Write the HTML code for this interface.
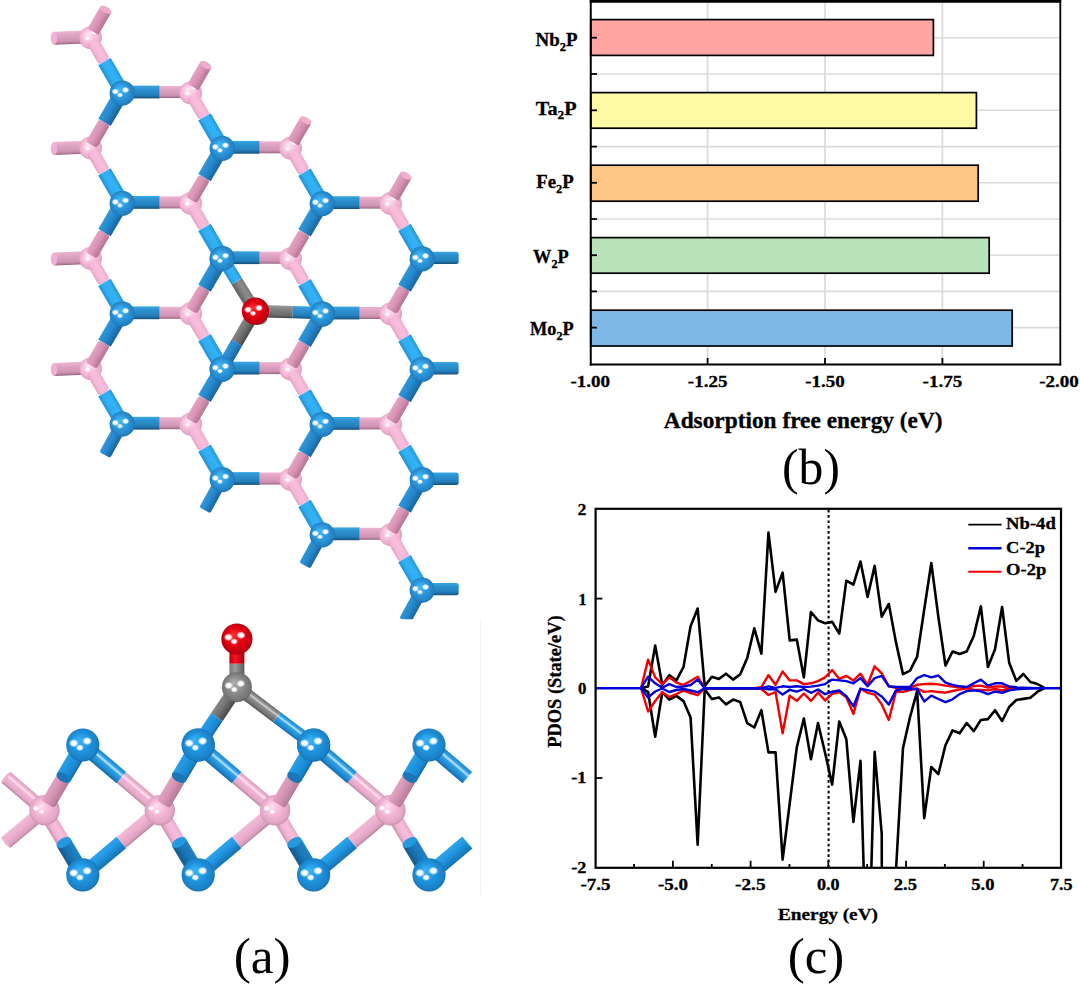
<!DOCTYPE html>
<html><head><meta charset="utf-8"><title>Figure</title>
<style>html,body{margin:0;padding:0;background:#fff}svg{display:block}
text{font-family:"Liberation Serif","Times New Roman",serif;fill:#000}
.b{font-weight:bold;stroke:#000;stroke-width:0.3px}</style></head><body>
<svg width="1080" height="985" viewBox="0 0 1080 985">
<defs>
<linearGradient id="bH" x1="0" y1="0" x2="0" y2="1"><stop offset="0" stop-color="#3aa6e4"/><stop offset="0.3" stop-color="#2c90ce"/><stop offset="0.7" stop-color="#2482be"/><stop offset="0.9" stop-color="#1b6496"/><stop offset="1" stop-color="#134a72"/></linearGradient>
<linearGradient id="bL" x1="0" y1="0" x2="0" y2="1"><stop offset="0" stop-color="#2596da"/><stop offset="0.3" stop-color="#33b2f6"/><stop offset="0.7" stop-color="#30aef2"/><stop offset="1" stop-color="#2190d2"/></linearGradient>
<linearGradient id="bD" x1="0" y1="0" x2="0" y2="1"><stop offset="0" stop-color="#2f98da"/><stop offset="0.45" stop-color="#2688cc"/><stop offset="1" stop-color="#19659c"/></linearGradient>
<linearGradient id="pH" x1="0" y1="0" x2="0" y2="1"><stop offset="0" stop-color="#eeb4d2"/><stop offset="0.35" stop-color="#dea2c2"/><stop offset="0.75" stop-color="#d094b4"/><stop offset="0.92" stop-color="#b47a9a"/><stop offset="1" stop-color="#8a5c74"/></linearGradient>
<linearGradient id="pL" x1="0" y1="0" x2="0" y2="1"><stop offset="0" stop-color="#eeaed0"/><stop offset="0.35" stop-color="#f9bedd"/><stop offset="0.75" stop-color="#f5b8d8"/><stop offset="1" stop-color="#e4a2c6"/></linearGradient>
<linearGradient id="pD" x1="0" y1="0" x2="0" y2="1"><stop offset="0" stop-color="#e4a4c4"/><stop offset="0.5" stop-color="#d892b4"/><stop offset="1" stop-color="#b47494"/></linearGradient>
<linearGradient id="gH" x1="0" y1="0" x2="0" y2="1"><stop offset="0" stop-color="#989898"/><stop offset="0.35" stop-color="#808080"/><stop offset="0.8" stop-color="#686868"/><stop offset="1" stop-color="#404040"/></linearGradient>
<linearGradient id="gL" x1="0" y1="0" x2="0" y2="1"><stop offset="0" stop-color="#7c7c7c"/><stop offset="0.4" stop-color="#8c8c8c"/><stop offset="1" stop-color="#626262"/></linearGradient>
<linearGradient id="gD" x1="0" y1="0" x2="0" y2="1"><stop offset="0" stop-color="#868686"/><stop offset="0.5" stop-color="#707070"/><stop offset="1" stop-color="#484848"/></linearGradient>
<linearGradient id="rV" x1="0" y1="0" x2="0" y2="1"><stop offset="0" stop-color="#c00010"/><stop offset="0.4" stop-color="#f01020"/><stop offset="1" stop-color="#b00010"/></linearGradient>
<radialGradient id="hl" cx="0.5" cy="0.5" r="0.5"><stop offset="0" stop-color="#fff" stop-opacity="1"/><stop offset="0.5" stop-color="#fff" stop-opacity="0.95"/><stop offset="1" stop-color="#fff" stop-opacity="0"/></radialGradient>
<radialGradient id="sB" cx="0.5" cy="0.5" r="0.55" fx="0.38" fy="0.34"><stop offset="0" stop-color="#3cbaf8"/><stop offset="0.55" stop-color="#2c96da"/><stop offset="0.85" stop-color="#2280c2"/><stop offset="1" stop-color="#1a6aa6"/></radialGradient>
<radialGradient id="sP" cx="0.5" cy="0.5" r="0.55" fx="0.38" fy="0.34"><stop offset="0" stop-color="#ffeaf5"/><stop offset="0.35" stop-color="#fccbe4"/><stop offset="0.75" stop-color="#f0b2d2"/><stop offset="1" stop-color="#d096b6"/></radialGradient>
<radialGradient id="sR" cx="0.5" cy="0.5" r="0.55" fx="0.38" fy="0.34"><stop offset="0" stop-color="#ff3030"/><stop offset="0.5" stop-color="#e60012"/><stop offset="0.85" stop-color="#c00010"/><stop offset="1" stop-color="#900008"/></radialGradient>
<radialGradient id="sG" cx="0.5" cy="0.5" r="0.55" fx="0.38" fy="0.34"><stop offset="0" stop-color="#b0b0b0"/><stop offset="0.5" stop-color="#8c8c8c"/><stop offset="0.85" stop-color="#747474"/><stop offset="1" stop-color="#555555"/></radialGradient>
<clipPath id="tc"><rect x="0" y="0" width="540" height="619.3"/></clipPath>
<linearGradient id="sbL" x1="0" y1="0" x2="0" y2="1"><stop offset="0" stop-color="#1a84cc"/><stop offset="0.22" stop-color="#2ea2e8"/><stop offset="0.36" stop-color="#bfe4fa"/><stop offset="0.5" stop-color="#2e9fe6"/><stop offset="0.8" stop-color="#1d88cf"/><stop offset="1" stop-color="#1468a6"/></linearGradient>
<linearGradient id="spL" x1="0" y1="0" x2="0" y2="1"><stop offset="0" stop-color="#d89cbc"/><stop offset="0.2" stop-color="#f2b4d4"/><stop offset="0.34" stop-color="#ffe4f2"/><stop offset="0.48" stop-color="#f2b4d4"/><stop offset="0.8" stop-color="#e6a8c8"/><stop offset="1" stop-color="#b4869e"/></linearGradient>
<linearGradient id="sbA" x1="0" y1="0" x2="0" y2="1"><stop offset="0" stop-color="#2aa0e8"/><stop offset="0.4" stop-color="#1f94de"/><stop offset="0.8" stop-color="#1a84cc"/><stop offset="1" stop-color="#14689f"/></linearGradient>
<linearGradient id="spA" x1="0" y1="0" x2="0" y2="1"><stop offset="0" stop-color="#e2a2c2"/><stop offset="0.4" stop-color="#d896b6"/><stop offset="1" stop-color="#b47a98"/></linearGradient>
<linearGradient id="sbC" x1="0" y1="0" x2="0" y2="1"><stop offset="0" stop-color="#1f84c8"/><stop offset="0.5" stop-color="#1a76b6"/><stop offset="1" stop-color="#125a8e"/></linearGradient>
<linearGradient id="spC" x1="0" y1="0" x2="0" y2="1"><stop offset="0" stop-color="#e8aacc"/><stop offset="0.35" stop-color="#f8bedc"/><stop offset="0.7" stop-color="#f2b4d4"/><stop offset="1" stop-color="#cc94b2"/></linearGradient>
<linearGradient id="sbD" x1="0" y1="0" x2="0" y2="1"><stop offset="0" stop-color="#2ea4ec"/><stop offset="0.4" stop-color="#2298e2"/><stop offset="1" stop-color="#1672b2"/></linearGradient>
<linearGradient id="spD" x1="0" y1="0" x2="0" y2="1"><stop offset="0" stop-color="#f4bad8"/><stop offset="0.4" stop-color="#eeb0d0"/><stop offset="0.8" stop-color="#dca0c0"/><stop offset="1" stop-color="#b4869e"/></linearGradient>
<linearGradient id="gL2" x1="0" y1="0" x2="0" y2="1"><stop offset="0" stop-color="#6c6c6c"/><stop offset="0.22" stop-color="#8e8e8e"/><stop offset="0.36" stop-color="#d0d0d0"/><stop offset="0.5" stop-color="#8c8c8c"/><stop offset="0.8" stop-color="#767676"/><stop offset="1" stop-color="#505050"/></linearGradient>
<radialGradient id="sP2" cx="0.5" cy="0.5" r="0.55" fx="0.38" fy="0.34"><stop offset="0" stop-color="#ffe0f0"/><stop offset="0.4" stop-color="#f6bcda"/><stop offset="0.8" stop-color="#e4a6c6"/><stop offset="1" stop-color="#b88aa2"/></radialGradient>
<radialGradient id="sB2" cx="0.5" cy="0.5" r="0.55" fx="0.38" fy="0.34"><stop offset="0" stop-color="#38b4f6"/><stop offset="0.5" stop-color="#1f94de"/><stop offset="0.85" stop-color="#1a80c6"/><stop offset="1" stop-color="#125e98"/></radialGradient>
<linearGradient id="rV2" x1="0" y1="0" x2="1" y2="0"><stop offset="0" stop-color="#c4000e"/><stop offset="0.4" stop-color="#f41422"/><stop offset="1" stop-color="#a8000c"/></linearGradient>
<linearGradient id="gV2" x1="0" y1="0" x2="1" y2="0"><stop offset="0" stop-color="#7c7c7c"/><stop offset="0.4" stop-color="#9a9a9a"/><stop offset="1" stop-color="#5a5a5a"/></linearGradient>
<clipPath id="pc"><rect x="595.6" y="508.8" width="465.4" height="359"/></clipPath>
</defs>
<rect width="1080" height="985" fill="#fff"/>
<g id="topview" clip-path="url(#tc)">
<rect x="0" y="-6" width="30.81" height="12" fill="url(#pH)" transform="translate(159.19 92) rotate(0)"/>
<rect x="0" y="-6" width="30.81" height="12" fill="url(#pH)" transform="translate(159.19 202.4) rotate(0)"/>
<rect x="0" y="-6" width="30.81" height="12" fill="url(#pH)" transform="translate(159.19 312.8) rotate(0)"/>
<rect x="0" y="-6" width="30.81" height="12" fill="url(#pH)" transform="translate(159.19 423.2) rotate(0)"/>
<rect x="0" y="-6" width="30.81" height="12" fill="url(#pH)" transform="translate(259.19 147.3) rotate(0)"/>
<rect x="0" y="-6" width="30.81" height="12" fill="url(#pH)" transform="translate(259.19 257.7) rotate(0)"/>
<rect x="0" y="-6" width="30.81" height="12" fill="url(#pH)" transform="translate(259.19 368.1) rotate(0)"/>
<rect x="0" y="-6" width="30.81" height="12" fill="url(#pH)" transform="translate(259.19 478.5) rotate(0)"/>
<rect x="0" y="-6" width="30.81" height="12" fill="url(#pH)" transform="translate(359.19 202.6) rotate(0)"/>
<rect x="0" y="-6" width="30.81" height="12" fill="url(#pH)" transform="translate(359.19 313) rotate(0)"/>
<rect x="0" y="-6" width="30.81" height="12" fill="url(#pH)" transform="translate(359.19 423.4) rotate(0)"/>
<rect x="0" y="-6" width="30.81" height="12" fill="url(#pH)" transform="translate(359.19 533.8) rotate(0)"/>
<rect x="0" y="-6.5" width="36.03" height="13" fill="url(#pH)" transform="translate(54 38.2) rotate(-2.39)"/>
<ellipse cx="54" cy="38.2" rx="3.2" ry="6.5" fill="#f0b2d2" transform="rotate(0 54 38.2)"/>
<rect x="0" y="-6.5" width="36.03" height="13" fill="url(#pH)" transform="translate(54 148.6) rotate(-2.39)"/>
<ellipse cx="54" cy="148.6" rx="3.2" ry="6.5" fill="#f0b2d2" transform="rotate(0 54 148.6)"/>
<rect x="0" y="-6.5" width="36.03" height="13" fill="url(#pH)" transform="translate(54 259) rotate(-2.39)"/>
<ellipse cx="54" cy="259" rx="3.2" ry="6.5" fill="#f0b2d2" transform="rotate(0 54 259)"/>
<rect x="0" y="-6.5" width="36.03" height="13" fill="url(#pH)" transform="translate(54 369.4) rotate(-2.39)"/>
<ellipse cx="54" cy="369.4" rx="3.2" ry="6.5" fill="#f0b2d2" transform="rotate(0 54 369.4)"/>
<circle cx="90.6" cy="37.6" r="11.4" fill="url(#sP)"/>
<ellipse cx="87.5" cy="38.2" rx="2.2" ry="1.8" fill="#fff" opacity="0.9"/>
<ellipse cx="93.5" cy="32.7" rx="2.6" ry="1.4" fill="#fff" opacity="0.8" transform="rotate(20 93.5 32.7)"/>
<circle cx="90.6" cy="148" r="11.4" fill="url(#sP)"/>
<ellipse cx="87.5" cy="148.6" rx="2.2" ry="1.8" fill="#fff" opacity="0.9"/>
<ellipse cx="93.5" cy="143.1" rx="2.6" ry="1.4" fill="#fff" opacity="0.8" transform="rotate(20 93.5 143.1)"/>
<circle cx="90.6" cy="258.4" r="11.4" fill="url(#sP)"/>
<ellipse cx="87.5" cy="259" rx="2.2" ry="1.8" fill="#fff" opacity="0.9"/>
<ellipse cx="93.5" cy="253.5" rx="2.6" ry="1.4" fill="#fff" opacity="0.8" transform="rotate(20 93.5 253.5)"/>
<circle cx="90.6" cy="368.8" r="11.4" fill="url(#sP)"/>
<ellipse cx="87.5" cy="369.4" rx="2.2" ry="1.8" fill="#fff" opacity="0.9"/>
<ellipse cx="93.5" cy="363.9" rx="2.6" ry="1.4" fill="#fff" opacity="0.8" transform="rotate(20 93.5 363.9)"/>
<circle cx="190.6" cy="92.9" r="11.4" fill="url(#sP)"/>
<ellipse cx="187.5" cy="93.5" rx="2.2" ry="1.8" fill="#fff" opacity="0.9"/>
<ellipse cx="193.5" cy="88" rx="2.6" ry="1.4" fill="#fff" opacity="0.8" transform="rotate(20 193.5 88)"/>
<circle cx="190.6" cy="203.3" r="11.4" fill="url(#sP)"/>
<ellipse cx="187.5" cy="203.9" rx="2.2" ry="1.8" fill="#fff" opacity="0.9"/>
<ellipse cx="193.5" cy="198.4" rx="2.6" ry="1.4" fill="#fff" opacity="0.8" transform="rotate(20 193.5 198.4)"/>
<circle cx="190.6" cy="313.7" r="11.4" fill="url(#sP)"/>
<ellipse cx="187.5" cy="314.3" rx="2.2" ry="1.8" fill="#fff" opacity="0.9"/>
<ellipse cx="193.5" cy="308.8" rx="2.6" ry="1.4" fill="#fff" opacity="0.8" transform="rotate(20 193.5 308.8)"/>
<circle cx="190.6" cy="424.1" r="11.4" fill="url(#sP)"/>
<ellipse cx="187.5" cy="424.7" rx="2.2" ry="1.8" fill="#fff" opacity="0.9"/>
<ellipse cx="193.5" cy="419.2" rx="2.6" ry="1.4" fill="#fff" opacity="0.8" transform="rotate(20 193.5 419.2)"/>
<circle cx="290.6" cy="148.2" r="11.4" fill="url(#sP)"/>
<ellipse cx="287.5" cy="148.8" rx="2.2" ry="1.8" fill="#fff" opacity="0.9"/>
<ellipse cx="293.5" cy="143.3" rx="2.6" ry="1.4" fill="#fff" opacity="0.8" transform="rotate(20 293.5 143.3)"/>
<circle cx="290.6" cy="258.6" r="11.4" fill="url(#sP)"/>
<ellipse cx="287.5" cy="259.2" rx="2.2" ry="1.8" fill="#fff" opacity="0.9"/>
<ellipse cx="293.5" cy="253.7" rx="2.6" ry="1.4" fill="#fff" opacity="0.8" transform="rotate(20 293.5 253.7)"/>
<circle cx="290.6" cy="369" r="11.4" fill="url(#sP)"/>
<ellipse cx="287.5" cy="369.6" rx="2.2" ry="1.8" fill="#fff" opacity="0.9"/>
<ellipse cx="293.5" cy="364.1" rx="2.6" ry="1.4" fill="#fff" opacity="0.8" transform="rotate(20 293.5 364.1)"/>
<circle cx="290.6" cy="479.4" r="11.4" fill="url(#sP)"/>
<ellipse cx="287.5" cy="480" rx="2.2" ry="1.8" fill="#fff" opacity="0.9"/>
<ellipse cx="293.5" cy="474.5" rx="2.6" ry="1.4" fill="#fff" opacity="0.8" transform="rotate(20 293.5 474.5)"/>
<circle cx="390.6" cy="203.5" r="11.4" fill="url(#sP)"/>
<ellipse cx="387.5" cy="204.1" rx="2.2" ry="1.8" fill="#fff" opacity="0.9"/>
<ellipse cx="393.5" cy="198.6" rx="2.6" ry="1.4" fill="#fff" opacity="0.8" transform="rotate(20 393.5 198.6)"/>
<circle cx="390.6" cy="313.9" r="11.4" fill="url(#sP)"/>
<ellipse cx="387.5" cy="314.5" rx="2.2" ry="1.8" fill="#fff" opacity="0.9"/>
<ellipse cx="393.5" cy="309" rx="2.6" ry="1.4" fill="#fff" opacity="0.8" transform="rotate(20 393.5 309)"/>
<circle cx="390.6" cy="424.3" r="11.4" fill="url(#sP)"/>
<ellipse cx="387.5" cy="424.9" rx="2.2" ry="1.8" fill="#fff" opacity="0.9"/>
<ellipse cx="393.5" cy="419.4" rx="2.6" ry="1.4" fill="#fff" opacity="0.8" transform="rotate(20 393.5 419.4)"/>
<circle cx="390.6" cy="534.7" r="11.4" fill="url(#sP)"/>
<ellipse cx="387.5" cy="535.3" rx="2.2" ry="1.8" fill="#fff" opacity="0.9"/>
<ellipse cx="393.5" cy="529.8" rx="2.6" ry="1.4" fill="#fff" opacity="0.8" transform="rotate(20 393.5 529.8)"/>
<rect x="0" y="-6.3" width="24.96" height="12.6" fill="url(#pL)" transform="translate(91.93 40.02) rotate(59.79)" rx="3"/>
<rect x="0" y="-6.3" width="26.17" height="12.6" fill="url(#pD)" transform="translate(91.29 144.9) rotate(-59.7)" rx="3"/>
<rect x="0" y="-6.3" width="24.96" height="12.6" fill="url(#pL)" transform="translate(91.93 150.42) rotate(59.79)" rx="3"/>
<rect x="0" y="-6.3" width="26.17" height="12.6" fill="url(#pD)" transform="translate(91.29 255.3) rotate(-59.7)" rx="3"/>
<rect x="0" y="-6.3" width="24.96" height="12.6" fill="url(#pL)" transform="translate(91.93 260.82) rotate(59.79)" rx="3"/>
<rect x="0" y="-6.3" width="26.17" height="12.6" fill="url(#pD)" transform="translate(91.29 365.7) rotate(-59.7)" rx="3"/>
<rect x="0" y="-6.3" width="24.96" height="12.6" fill="url(#pL)" transform="translate(91.93 371.22) rotate(59.79)" rx="3"/>
<rect x="0" y="-6.3" width="24.96" height="12.6" fill="url(#pL)" transform="translate(191.93 95.32) rotate(59.79)" rx="3"/>
<rect x="0" y="-6.3" width="26.17" height="12.6" fill="url(#pD)" transform="translate(191.29 200.2) rotate(-59.7)" rx="3"/>
<rect x="0" y="-6.3" width="24.96" height="12.6" fill="url(#pL)" transform="translate(191.93 205.72) rotate(59.79)" rx="3"/>
<rect x="0" y="-6.3" width="26.17" height="12.6" fill="url(#pD)" transform="translate(191.29 310.6) rotate(-59.7)" rx="3"/>
<rect x="0" y="-6.3" width="24.96" height="12.6" fill="url(#pL)" transform="translate(191.93 316.12) rotate(59.79)" rx="3"/>
<rect x="0" y="-6.3" width="26.17" height="12.6" fill="url(#pD)" transform="translate(191.29 421) rotate(-59.7)" rx="3"/>
<rect x="0" y="-6.3" width="24.96" height="12.6" fill="url(#pL)" transform="translate(191.93 426.52) rotate(59.79)" rx="3"/>
<rect x="0" y="-6.3" width="24.96" height="12.6" fill="url(#pL)" transform="translate(291.93 150.62) rotate(59.79)" rx="3"/>
<rect x="0" y="-6.3" width="26.17" height="12.6" fill="url(#pD)" transform="translate(291.29 255.5) rotate(-59.7)" rx="3"/>
<rect x="0" y="-6.3" width="24.96" height="12.6" fill="url(#pL)" transform="translate(291.93 261.02) rotate(59.79)" rx="3"/>
<rect x="0" y="-6.3" width="26.17" height="12.6" fill="url(#pD)" transform="translate(291.29 365.9) rotate(-59.7)" rx="3"/>
<rect x="0" y="-6.3" width="24.96" height="12.6" fill="url(#pL)" transform="translate(291.93 371.42) rotate(59.79)" rx="3"/>
<rect x="0" y="-6.3" width="26.17" height="12.6" fill="url(#pD)" transform="translate(291.29 476.3) rotate(-59.7)" rx="3"/>
<rect x="0" y="-6.3" width="24.96" height="12.6" fill="url(#pL)" transform="translate(291.93 481.82) rotate(59.79)" rx="3"/>
<rect x="0" y="-6.3" width="24.96" height="12.6" fill="url(#pL)" transform="translate(391.93 205.92) rotate(59.79)" rx="3"/>
<rect x="0" y="-6.3" width="26.17" height="12.6" fill="url(#pD)" transform="translate(391.29 310.8) rotate(-59.7)" rx="3"/>
<rect x="0" y="-6.3" width="24.96" height="12.6" fill="url(#pL)" transform="translate(391.93 316.32) rotate(59.79)" rx="3"/>
<rect x="0" y="-6.3" width="26.17" height="12.6" fill="url(#pD)" transform="translate(391.29 421.2) rotate(-59.7)" rx="3"/>
<rect x="0" y="-6.3" width="24.96" height="12.6" fill="url(#pL)" transform="translate(391.93 426.72) rotate(59.79)" rx="3"/>
<rect x="0" y="-6.3" width="26.17" height="12.6" fill="url(#pD)" transform="translate(391.29 531.6) rotate(-59.7)" rx="3"/>
<rect x="0" y="-6.3" width="24.96" height="12.6" fill="url(#pL)" transform="translate(391.93 537.12) rotate(59.79)" rx="3"/>
<rect x="0" y="-6.3" width="25.45" height="12.6" fill="url(#pD)" transform="translate(93 31.7) rotate(-59.81)"/>
<ellipse cx="105.8" cy="9.7" rx="6.3" ry="3.1" fill="#efaece" transform="rotate(30.4 105.8 9.7)"/>
<rect x="0" y="-6.3" width="25.45" height="12.6" fill="url(#pD)" transform="translate(193 87) rotate(-59.81)"/>
<ellipse cx="205.8" cy="65" rx="6.3" ry="3.1" fill="#efaece" transform="rotate(30.4 205.8 65)"/>
<rect x="0" y="-6.3" width="25.45" height="12.6" fill="url(#pD)" transform="translate(293 142.3) rotate(-59.81)"/>
<ellipse cx="305.8" cy="120.3" rx="6.3" ry="3.1" fill="#efaece" transform="rotate(30.4 305.8 120.3)"/>
<rect x="0" y="-6.3" width="25.45" height="12.6" fill="url(#pD)" transform="translate(393 197.6) rotate(-59.81)"/>
<ellipse cx="405.8" cy="175.6" rx="6.3" ry="3.1" fill="#efaece" transform="rotate(30.4 405.8 175.6)"/>
<rect x="0" y="-6.4" width="37.29" height="12.8" fill="url(#bH)" transform="translate(122.2 92) rotate(0)"/>
<rect x="0" y="-7.2" width="35.2" height="14.4" fill="url(#bL)" transform="translate(104.49 61.59) rotate(59.79)"/>
<rect x="0" y="-7.2" width="35.1" height="14.4" fill="url(#bD)" transform="translate(104.49 122.31) rotate(-59.7)"/>
<rect x="0" y="-6.4" width="37.29" height="12.8" fill="url(#bH)" transform="translate(122.2 202.4) rotate(0)"/>
<rect x="0" y="-7.2" width="35.2" height="14.4" fill="url(#bL)" transform="translate(104.49 171.99) rotate(59.79)"/>
<rect x="0" y="-7.2" width="35.1" height="14.4" fill="url(#bD)" transform="translate(104.49 232.71) rotate(-59.7)"/>
<rect x="0" y="-6.4" width="37.29" height="12.8" fill="url(#bH)" transform="translate(122.2 312.8) rotate(0)"/>
<rect x="0" y="-7.2" width="35.2" height="14.4" fill="url(#bL)" transform="translate(104.49 282.38) rotate(59.79)"/>
<rect x="0" y="-7.2" width="35.1" height="14.4" fill="url(#bD)" transform="translate(104.49 343.11) rotate(-59.7)"/>
<rect x="0" y="-6.4" width="37.29" height="12.8" fill="url(#bH)" transform="translate(122.2 423.2) rotate(0)"/>
<rect x="0" y="-7.2" width="35.2" height="14.4" fill="url(#bL)" transform="translate(104.49 392.79) rotate(59.79)"/>
<rect x="0" y="-6.2" width="36.25" height="12.4" fill="url(#bD)" transform="translate(104.8 455) rotate(-61.31)" rx="2"/>
<rect x="0" y="-6.4" width="37.29" height="12.8" fill="url(#bH)" transform="translate(222.2 147.3) rotate(0)"/>
<rect x="0" y="-7.2" width="35.2" height="14.4" fill="url(#bL)" transform="translate(204.49 116.89) rotate(59.79)"/>
<rect x="0" y="-7.2" width="35.1" height="14.4" fill="url(#bD)" transform="translate(204.49 177.61) rotate(-59.7)"/>
<rect x="0" y="-6.4" width="37.29" height="12.8" fill="url(#bH)" transform="translate(222.2 257.7) rotate(0)"/>
<rect x="0" y="-7.2" width="35.2" height="14.4" fill="url(#bL)" transform="translate(204.49 227.29) rotate(59.79)"/>
<rect x="0" y="-7.2" width="35.1" height="14.4" fill="url(#bD)" transform="translate(204.49 288.01) rotate(-59.7)"/>
<rect x="0" y="-6.4" width="37.29" height="12.8" fill="url(#bH)" transform="translate(222.2 368.1) rotate(0)"/>
<rect x="0" y="-7.2" width="35.2" height="14.4" fill="url(#bL)" transform="translate(204.49 337.69) rotate(59.79)"/>
<rect x="0" y="-7.2" width="35.1" height="14.4" fill="url(#bD)" transform="translate(204.49 398.41) rotate(-59.7)"/>
<rect x="0" y="-6.4" width="37.29" height="12.8" fill="url(#bH)" transform="translate(222.2 478.5) rotate(0)"/>
<rect x="0" y="-7.2" width="35.2" height="14.4" fill="url(#bL)" transform="translate(204.49 448.09) rotate(59.79)"/>
<rect x="0" y="-6.2" width="36.25" height="12.4" fill="url(#bD)" transform="translate(204.8 510.3) rotate(-61.31)" rx="2"/>
<rect x="0" y="-6.4" width="37.29" height="12.8" fill="url(#bH)" transform="translate(322.2 202.6) rotate(0)"/>
<rect x="0" y="-7.2" width="35.2" height="14.4" fill="url(#bL)" transform="translate(304.49 172.19) rotate(59.79)"/>
<rect x="0" y="-7.2" width="35.1" height="14.4" fill="url(#bD)" transform="translate(304.49 232.91) rotate(-59.7)"/>
<rect x="0" y="-6.4" width="37.29" height="12.8" fill="url(#bH)" transform="translate(322.2 313) rotate(0)"/>
<rect x="0" y="-7.2" width="35.2" height="14.4" fill="url(#bL)" transform="translate(304.49 282.59) rotate(59.79)"/>
<rect x="0" y="-7.2" width="35.1" height="14.4" fill="url(#bD)" transform="translate(304.49 343.31) rotate(-59.7)"/>
<rect x="0" y="-6.4" width="37.29" height="12.8" fill="url(#bH)" transform="translate(322.2 423.4) rotate(0)"/>
<rect x="0" y="-7.2" width="35.2" height="14.4" fill="url(#bL)" transform="translate(304.49 392.99) rotate(59.79)"/>
<rect x="0" y="-7.2" width="35.1" height="14.4" fill="url(#bD)" transform="translate(304.49 453.71) rotate(-59.7)"/>
<rect x="0" y="-6.4" width="37.29" height="12.8" fill="url(#bH)" transform="translate(322.2 533.8) rotate(0)"/>
<rect x="0" y="-7.2" width="35.2" height="14.4" fill="url(#bL)" transform="translate(304.49 503.39) rotate(59.79)"/>
<rect x="0" y="-6.2" width="36.25" height="12.4" fill="url(#bD)" transform="translate(304.8 565.6) rotate(-61.31)" rx="2"/>
<rect x="0" y="-6.2" width="36.5" height="12.4" fill="url(#bH)" transform="translate(422.2 257.9) rotate(0)" rx="2.5"/>
<rect x="0" y="-7.2" width="35.2" height="14.4" fill="url(#bL)" transform="translate(404.49 227.48) rotate(59.79)"/>
<rect x="0" y="-7.2" width="35.1" height="14.4" fill="url(#bD)" transform="translate(404.49 288.2) rotate(-59.7)"/>
<rect x="0" y="-6.2" width="36.5" height="12.4" fill="url(#bH)" transform="translate(422.2 368.3) rotate(0)" rx="2.5"/>
<rect x="0" y="-7.2" width="35.2" height="14.4" fill="url(#bL)" transform="translate(404.49 337.88) rotate(59.79)"/>
<rect x="0" y="-7.2" width="35.1" height="14.4" fill="url(#bD)" transform="translate(404.49 398.6) rotate(-59.7)"/>
<rect x="0" y="-6.2" width="36.5" height="12.4" fill="url(#bH)" transform="translate(422.2 478.7) rotate(0)" rx="2.5"/>
<rect x="0" y="-7.2" width="35.2" height="14.4" fill="url(#bL)" transform="translate(404.49 448.28) rotate(59.79)"/>
<rect x="0" y="-7.2" width="35.1" height="14.4" fill="url(#bD)" transform="translate(404.49 509.01) rotate(-59.7)"/>
<rect x="0" y="-6.2" width="36.5" height="12.4" fill="url(#bH)" transform="translate(422.2 589.1) rotate(0)" rx="2.5"/>
<rect x="0" y="-7.2" width="35.2" height="14.4" fill="url(#bL)" transform="translate(404.49 558.69) rotate(59.79)"/>
<rect x="0" y="-6.2" width="36.25" height="12.4" fill="url(#bD)" transform="translate(404.8 620.9) rotate(-61.31)" rx="2"/>
<circle cx="122.2" cy="93" r="12.6" fill="url(#sB)"/><ellipse cx="115.35" cy="91.59" rx="3.8" ry="3.23" fill="url(#hl)"/><ellipse cx="125.53" cy="89.98" rx="3.8" ry="3.23" fill="url(#hl)"/><ellipse cx="119.98" cy="95.02" rx="3.07" ry="2.61" fill="url(#hl)"/>
<circle cx="122.2" cy="203.4" r="12.6" fill="url(#sB)"/><ellipse cx="115.35" cy="201.99" rx="3.8" ry="3.23" fill="url(#hl)"/><ellipse cx="125.53" cy="200.38" rx="3.8" ry="3.23" fill="url(#hl)"/><ellipse cx="119.98" cy="205.42" rx="3.07" ry="2.61" fill="url(#hl)"/>
<circle cx="122.2" cy="313.8" r="12.6" fill="url(#sB)"/><ellipse cx="115.35" cy="312.39" rx="3.8" ry="3.23" fill="url(#hl)"/><ellipse cx="125.53" cy="310.78" rx="3.8" ry="3.23" fill="url(#hl)"/><ellipse cx="119.98" cy="315.82" rx="3.07" ry="2.61" fill="url(#hl)"/>
<circle cx="122.2" cy="424.2" r="12.6" fill="url(#sB)"/><ellipse cx="115.35" cy="422.79" rx="3.8" ry="3.23" fill="url(#hl)"/><ellipse cx="125.53" cy="421.18" rx="3.8" ry="3.23" fill="url(#hl)"/><ellipse cx="119.98" cy="426.22" rx="3.07" ry="2.61" fill="url(#hl)"/>
<circle cx="222.2" cy="148.3" r="12.6" fill="url(#sB)"/><ellipse cx="215.35" cy="146.89" rx="3.8" ry="3.23" fill="url(#hl)"/><ellipse cx="225.53" cy="145.28" rx="3.8" ry="3.23" fill="url(#hl)"/><ellipse cx="219.98" cy="150.32" rx="3.07" ry="2.61" fill="url(#hl)"/>
<circle cx="222.2" cy="258.7" r="12.6" fill="url(#sB)"/><ellipse cx="215.35" cy="257.29" rx="3.8" ry="3.23" fill="url(#hl)"/><ellipse cx="225.53" cy="255.68" rx="3.8" ry="3.23" fill="url(#hl)"/><ellipse cx="219.98" cy="260.72" rx="3.07" ry="2.61" fill="url(#hl)"/>
<circle cx="222.2" cy="369.1" r="12.6" fill="url(#sB)"/><ellipse cx="215.35" cy="367.69" rx="3.8" ry="3.23" fill="url(#hl)"/><ellipse cx="225.53" cy="366.08" rx="3.8" ry="3.23" fill="url(#hl)"/><ellipse cx="219.98" cy="371.12" rx="3.07" ry="2.61" fill="url(#hl)"/>
<circle cx="222.2" cy="479.5" r="12.6" fill="url(#sB)"/><ellipse cx="215.35" cy="478.09" rx="3.8" ry="3.23" fill="url(#hl)"/><ellipse cx="225.53" cy="476.48" rx="3.8" ry="3.23" fill="url(#hl)"/><ellipse cx="219.98" cy="481.52" rx="3.07" ry="2.61" fill="url(#hl)"/>
<circle cx="322.2" cy="203.6" r="12.6" fill="url(#sB)"/><ellipse cx="315.35" cy="202.19" rx="3.8" ry="3.23" fill="url(#hl)"/><ellipse cx="325.53" cy="200.58" rx="3.8" ry="3.23" fill="url(#hl)"/><ellipse cx="319.98" cy="205.62" rx="3.07" ry="2.61" fill="url(#hl)"/>
<circle cx="322.2" cy="314" r="12.6" fill="url(#sB)"/><ellipse cx="315.35" cy="312.59" rx="3.8" ry="3.23" fill="url(#hl)"/><ellipse cx="325.53" cy="310.98" rx="3.8" ry="3.23" fill="url(#hl)"/><ellipse cx="319.98" cy="316.02" rx="3.07" ry="2.61" fill="url(#hl)"/>
<circle cx="322.2" cy="424.4" r="12.6" fill="url(#sB)"/><ellipse cx="315.35" cy="422.99" rx="3.8" ry="3.23" fill="url(#hl)"/><ellipse cx="325.53" cy="421.38" rx="3.8" ry="3.23" fill="url(#hl)"/><ellipse cx="319.98" cy="426.42" rx="3.07" ry="2.61" fill="url(#hl)"/>
<circle cx="322.2" cy="534.8" r="12.6" fill="url(#sB)"/><ellipse cx="315.35" cy="533.39" rx="3.8" ry="3.23" fill="url(#hl)"/><ellipse cx="325.53" cy="531.78" rx="3.8" ry="3.23" fill="url(#hl)"/><ellipse cx="319.98" cy="536.82" rx="3.07" ry="2.61" fill="url(#hl)"/>
<circle cx="422.2" cy="258.9" r="12.6" fill="url(#sB)"/><ellipse cx="415.35" cy="257.49" rx="3.8" ry="3.23" fill="url(#hl)"/><ellipse cx="425.53" cy="255.88" rx="3.8" ry="3.23" fill="url(#hl)"/><ellipse cx="419.98" cy="260.92" rx="3.07" ry="2.61" fill="url(#hl)"/>
<circle cx="422.2" cy="369.3" r="12.6" fill="url(#sB)"/><ellipse cx="415.35" cy="367.89" rx="3.8" ry="3.23" fill="url(#hl)"/><ellipse cx="425.53" cy="366.28" rx="3.8" ry="3.23" fill="url(#hl)"/><ellipse cx="419.98" cy="371.32" rx="3.07" ry="2.61" fill="url(#hl)"/>
<circle cx="422.2" cy="479.7" r="12.6" fill="url(#sB)"/><ellipse cx="415.35" cy="478.29" rx="3.8" ry="3.23" fill="url(#hl)"/><ellipse cx="425.53" cy="476.68" rx="3.8" ry="3.23" fill="url(#hl)"/><ellipse cx="419.98" cy="481.72" rx="3.07" ry="2.61" fill="url(#hl)"/>
<circle cx="422.2" cy="590.1" r="12.6" fill="url(#sB)"/><ellipse cx="415.35" cy="588.69" rx="3.8" ry="3.23" fill="url(#hl)"/><ellipse cx="425.53" cy="587.08" rx="3.8" ry="3.23" fill="url(#hl)"/><ellipse cx="419.98" cy="592.12" rx="3.07" ry="2.61" fill="url(#hl)"/>
<rect x="0" y="-6.2" width="35.11" height="12.4" fill="url(#gL)" transform="translate(236.72 281.15) rotate(58.24)"/>
<rect x="0" y="-6.2" width="27.58" height="12.4" fill="url(#bL)" transform="translate(222.2 257.7) rotate(58.24)"/>
<rect x="0" y="-6.2" width="37.54" height="12.4" fill="url(#gH)" transform="translate(255.2 311) rotate(1.71)"/>
<rect x="0" y="-6.2" width="29.49" height="12.4" fill="url(#bH)" transform="translate(292.72 312.12) rotate(1.71)"/>
<rect x="0" y="-6.2" width="36.93" height="12.4" fill="url(#gD)" transform="translate(236.72 342.98) rotate(-59.97)"/>
<rect x="0" y="-6.2" width="29.02" height="12.4" fill="url(#bD)" transform="translate(222.2 368.1) rotate(-59.97)"/>
<circle cx="222.2" cy="258.7" r="12.6" fill="url(#sB)"/><ellipse cx="215.35" cy="257.29" rx="3.8" ry="3.23" fill="url(#hl)"/><ellipse cx="225.53" cy="255.68" rx="3.8" ry="3.23" fill="url(#hl)"/><ellipse cx="219.98" cy="260.72" rx="3.07" ry="2.61" fill="url(#hl)"/>
<circle cx="322.2" cy="314" r="12.6" fill="url(#sB)"/><ellipse cx="315.35" cy="312.59" rx="3.8" ry="3.23" fill="url(#hl)"/><ellipse cx="325.53" cy="310.98" rx="3.8" ry="3.23" fill="url(#hl)"/><ellipse cx="319.98" cy="316.02" rx="3.07" ry="2.61" fill="url(#hl)"/>
<circle cx="222.2" cy="369.1" r="12.6" fill="url(#sB)"/><ellipse cx="215.35" cy="367.69" rx="3.8" ry="3.23" fill="url(#hl)"/><ellipse cx="225.53" cy="366.08" rx="3.8" ry="3.23" fill="url(#hl)"/><ellipse cx="219.98" cy="371.12" rx="3.07" ry="2.61" fill="url(#hl)"/>
<ellipse cx="258.2" cy="319" rx="9" ry="6" fill="#555" opacity="0.8"/>
<circle cx="255.4" cy="311.2" r="13.6" fill="url(#sR)"/><ellipse cx="248" cy="309.68" rx="4.1" ry="3.49" fill="url(#hl)"/><ellipse cx="258.99" cy="307.94" rx="4.1" ry="3.49" fill="url(#hl)"/><ellipse cx="253.01" cy="313.38" rx="3.31" ry="2.82" fill="url(#hl)"/>
</g>
<g id="sideview"><rect x="0" y="-7" width="37.55" height="14" fill="url(#spC)" transform="translate(44.5 810.2) rotate(59.34)"/>
<rect x="0" y="-7.1" width="50.45" height="14.2" fill="url(#spL)" transform="translate(121.3 777.6) rotate(40.26)"/>
<rect x="0" y="-7.1" width="50.25" height="14.2" fill="url(#spD)" transform="translate(121.3 842.5) rotate(-40)"/>
<rect x="0" y="-7" width="37.58" height="14" fill="url(#spC)" transform="translate(159.8 810.2) rotate(59.27)"/>
<rect x="0" y="-7.1" width="50.41" height="14.2" fill="url(#spL)" transform="translate(236.65 777.6) rotate(40.29)"/>
<rect x="0" y="-7.1" width="50.22" height="14.2" fill="url(#spD)" transform="translate(236.65 842.5) rotate(-40.03)"/>
<rect x="0" y="-7" width="37.6" height="14" fill="url(#spC)" transform="translate(275.1 810.2) rotate(59.21)"/>
<rect x="0" y="-7.1" width="50.37" height="14.2" fill="url(#spL)" transform="translate(352 777.6) rotate(40.33)"/>
<rect x="0" y="-7.1" width="50.18" height="14.2" fill="url(#spD)" transform="translate(352 842.5) rotate(-40.07)"/>
<rect x="0" y="-7" width="37.63" height="14" fill="url(#spC)" transform="translate(390.4 810.2) rotate(59.14)"/>
<rect x="0" y="-7" width="50.65" height="14" fill="url(#spL)" transform="translate(5.95 777.35) rotate(40.44)"/>
<ellipse cx="5.95" cy="777.35" rx="7" ry="1.4" fill="#f0b4d2" transform="rotate(-49.56 5.95 777.35)"/>
<rect x="0" y="-7" width="50.29" height="14" fill="url(#spD)" transform="translate(5.95 842.5) rotate(-39.96)"/>
<ellipse cx="5.95" cy="842.5" rx="7" ry="1.4" fill="#f0b4d2" transform="rotate(230.04 5.95 842.5)"/>
<circle cx="44.5" cy="810.2" r="15.2" fill="url(#sP2)"/>
<ellipse cx="36" cy="808.2" rx="2.6" ry="2.2" fill="#fff" opacity="0.9"/>
<ellipse cx="41.5" cy="811.8" rx="2.4" ry="2.0" fill="#fff" opacity="0.9"/>
<circle cx="159.8" cy="810.2" r="15.2" fill="url(#sP2)"/>
<ellipse cx="151.3" cy="808.2" rx="2.6" ry="2.2" fill="#fff" opacity="0.9"/>
<ellipse cx="156.8" cy="811.8" rx="2.4" ry="2.0" fill="#fff" opacity="0.9"/>
<circle cx="275.1" cy="810.2" r="15.2" fill="url(#sP2)"/>
<ellipse cx="266.6" cy="808.2" rx="2.6" ry="2.2" fill="#fff" opacity="0.9"/>
<ellipse cx="272.1" cy="811.8" rx="2.4" ry="2.0" fill="#fff" opacity="0.9"/>
<circle cx="390.4" cy="810.2" r="15.2" fill="url(#sP2)"/>
<ellipse cx="381.9" cy="808.2" rx="2.6" ry="2.2" fill="#fff" opacity="0.9"/>
<ellipse cx="387.4" cy="811.8" rx="2.4" ry="2.0" fill="#fff" opacity="0.9"/>
<rect x="0" y="-7.4" width="31" height="14.8" fill="url(#spA)" transform="translate(47.95 804.33) rotate(-59.57)" rx="3"/>
<rect x="0" y="-7.4" width="31.02" height="14.8" fill="url(#spA)" transform="translate(163.26 804.33) rotate(-59.5)" rx="3"/>
<rect x="0" y="-7.4" width="31.04" height="14.8" fill="url(#spA)" transform="translate(278.56 804.33) rotate(-59.44)" rx="3"/>
<rect x="0" y="-7.4" width="31.07" height="14.8" fill="url(#spA)" transform="translate(393.87 804.33) rotate(-59.37)" rx="3"/>
<rect x="0" y="-7.4" width="50.45" height="14.8" fill="url(#sbL)" transform="translate(82.8 745) rotate(40.26)"/>
<rect x="0" y="-7.4" width="50.25" height="14.8" fill="url(#sbD)" transform="translate(82.8 874.8) rotate(-40)"/>
<rect x="0" y="-7.4" width="50.41" height="14.8" fill="url(#sbL)" transform="translate(198.2 745) rotate(40.29)"/>
<rect x="0" y="-7.4" width="50.22" height="14.8" fill="url(#sbD)" transform="translate(198.2 874.8) rotate(-40.03)"/>
<rect x="0" y="-7.4" width="50.37" height="14.8" fill="url(#sbL)" transform="translate(313.6 745) rotate(40.33)"/>
<rect x="0" y="-7.4" width="50.18" height="14.8" fill="url(#sbD)" transform="translate(313.6 874.8) rotate(-40.07)"/>
<rect x="0" y="-7.4" width="50.33" height="14.8" fill="url(#sbL)" transform="translate(429 745) rotate(40.37)"/>
<rect x="0" y="-7.9" width="50.14" height="15.8" fill="url(#sbD)" transform="translate(429 874.8) rotate(-40.11)"/>
<rect x="0" y="-7.9" width="37.81" height="15.8" fill="url(#sbA)" transform="translate(63.65 777.6) rotate(-59.57)"/>
<ellipse cx="63.65" cy="777.6" rx="7.9" ry="4.3" fill="#1b76b8" transform="rotate(210.43 63.65 777.6)"/>
<rect x="0" y="-7.9" width="37.55" height="15.8" fill="url(#sbC)" transform="translate(63.65 842.5) rotate(59.34)"/>
<ellipse cx="63.65" cy="842.5" rx="7.9" ry="4.3" fill="#2599e0" transform="rotate(149.34 63.65 842.5)"/>
<rect x="0" y="-7.9" width="37.83" height="15.8" fill="url(#sbA)" transform="translate(179 777.6) rotate(-59.5)"/>
<ellipse cx="179" cy="777.6" rx="7.9" ry="4.3" fill="#1b76b8" transform="rotate(210.5 179 777.6)"/>
<rect x="0" y="-7.9" width="37.58" height="15.8" fill="url(#sbC)" transform="translate(179 842.5) rotate(59.27)"/>
<ellipse cx="179" cy="842.5" rx="7.9" ry="4.3" fill="#2599e0" transform="rotate(149.27 179 842.5)"/>
<rect x="0" y="-7.9" width="37.86" height="15.8" fill="url(#sbA)" transform="translate(294.35 777.6) rotate(-59.44)"/>
<ellipse cx="294.35" cy="777.6" rx="7.9" ry="4.3" fill="#1b76b8" transform="rotate(210.56 294.35 777.6)"/>
<rect x="0" y="-7.9" width="37.6" height="15.8" fill="url(#sbC)" transform="translate(294.35 842.5) rotate(59.21)"/>
<ellipse cx="294.35" cy="842.5" rx="7.9" ry="4.3" fill="#2599e0" transform="rotate(149.21 294.35 842.5)"/>
<rect x="0" y="-7.9" width="37.88" height="15.8" fill="url(#sbA)" transform="translate(409.7 777.6) rotate(-59.37)"/>
<ellipse cx="409.7" cy="777.6" rx="7.9" ry="4.3" fill="#1b76b8" transform="rotate(210.63 409.7 777.6)"/>
<rect x="0" y="-7.9" width="37.63" height="15.8" fill="url(#sbC)" transform="translate(409.7 842.5) rotate(59.14)"/>
<ellipse cx="409.7" cy="842.5" rx="7.9" ry="4.3" fill="#2599e0" transform="rotate(149.14 409.7 842.5)"/>
<circle cx="82.8" cy="745" r="16.6" fill="url(#sB2)"/><ellipse cx="73.77" cy="743.14" rx="5.01" ry="4.26" fill="url(#hl)"/><ellipse cx="87.18" cy="741.02" rx="5.01" ry="4.26" fill="url(#hl)"/><ellipse cx="79.88" cy="747.66" rx="4.04" ry="3.44" fill="url(#hl)"/>
<circle cx="82.8" cy="874.8" r="16.6" fill="url(#sB2)"/><ellipse cx="73.77" cy="872.94" rx="5.01" ry="4.26" fill="url(#hl)"/><ellipse cx="87.18" cy="870.82" rx="5.01" ry="4.26" fill="url(#hl)"/><ellipse cx="79.88" cy="877.46" rx="4.04" ry="3.44" fill="url(#hl)"/>
<circle cx="198.2" cy="745" r="16.6" fill="url(#sB2)"/><ellipse cx="189.17" cy="743.14" rx="5.01" ry="4.26" fill="url(#hl)"/><ellipse cx="202.58" cy="741.02" rx="5.01" ry="4.26" fill="url(#hl)"/><ellipse cx="195.28" cy="747.66" rx="4.04" ry="3.44" fill="url(#hl)"/>
<circle cx="198.2" cy="874.8" r="16.6" fill="url(#sB2)"/><ellipse cx="189.17" cy="872.94" rx="5.01" ry="4.26" fill="url(#hl)"/><ellipse cx="202.58" cy="870.82" rx="5.01" ry="4.26" fill="url(#hl)"/><ellipse cx="195.28" cy="877.46" rx="4.04" ry="3.44" fill="url(#hl)"/>
<circle cx="313.6" cy="745" r="16.6" fill="url(#sB2)"/><ellipse cx="304.57" cy="743.14" rx="5.01" ry="4.26" fill="url(#hl)"/><ellipse cx="317.98" cy="741.02" rx="5.01" ry="4.26" fill="url(#hl)"/><ellipse cx="310.68" cy="747.66" rx="4.04" ry="3.44" fill="url(#hl)"/>
<circle cx="313.6" cy="874.8" r="16.6" fill="url(#sB2)"/><ellipse cx="304.57" cy="872.94" rx="5.01" ry="4.26" fill="url(#hl)"/><ellipse cx="317.98" cy="870.82" rx="5.01" ry="4.26" fill="url(#hl)"/><ellipse cx="310.68" cy="877.46" rx="4.04" ry="3.44" fill="url(#hl)"/>
<circle cx="429" cy="745" r="16.6" fill="url(#sB2)"/><ellipse cx="419.97" cy="743.14" rx="5.01" ry="4.26" fill="url(#hl)"/><ellipse cx="433.38" cy="741.02" rx="5.01" ry="4.26" fill="url(#hl)"/><ellipse cx="426.08" cy="747.66" rx="4.04" ry="3.44" fill="url(#hl)"/>
<circle cx="429" cy="874.8" r="16.6" fill="url(#sB2)"/><ellipse cx="419.97" cy="872.94" rx="5.01" ry="4.26" fill="url(#hl)"/><ellipse cx="433.38" cy="870.82" rx="5.01" ry="4.26" fill="url(#hl)"/><ellipse cx="426.08" cy="877.46" rx="4.04" ry="3.44" fill="url(#hl)"/>
<rect x="0" y="-7" width="36.17" height="14" fill="url(#gD)" transform="translate(216.78 717.26) rotate(-56.2)"/>
<rect x="0" y="-7" width="33.39" height="14" fill="url(#sbA)" transform="translate(198.2 745) rotate(-56.2)"/>
<rect x="0" y="-6.4" width="49.94" height="12.8" fill="url(#gL2)" transform="translate(236.9 687.2) rotate(37)"/>
<rect x="0" y="-6.4" width="46.1" height="12.8" fill="url(#sbL)" transform="translate(276.78 717.26) rotate(37)"/>
<circle cx="198.2" cy="745" r="16.6" fill="url(#sB2)"/><ellipse cx="189.17" cy="743.14" rx="5.01" ry="4.26" fill="url(#hl)"/><ellipse cx="202.58" cy="741.02" rx="5.01" ry="4.26" fill="url(#hl)"/><ellipse cx="195.28" cy="747.66" rx="4.04" ry="3.44" fill="url(#hl)"/>
<circle cx="313.6" cy="745" r="16.6" fill="url(#sB2)"/><ellipse cx="304.57" cy="743.14" rx="5.01" ry="4.26" fill="url(#hl)"/><ellipse cx="317.98" cy="741.02" rx="5.01" ry="4.26" fill="url(#hl)"/><ellipse cx="310.68" cy="747.66" rx="4.04" ry="3.44" fill="url(#hl)"/>
<rect x="229.4" y="639" width="15" height="24.8" fill="url(#rV2)"/>
<rect x="229.4" y="663.8" width="15" height="23.4" fill="url(#gV2)"/>
<circle cx="236.9" cy="687.2" r="15" fill="url(#sG)"/><ellipse cx="228.74" cy="685.52" rx="4.52" ry="3.85" fill="url(#hl)"/><ellipse cx="240.86" cy="683.6" rx="4.52" ry="3.85" fill="url(#hl)"/><ellipse cx="234.26" cy="689.6" rx="3.65" ry="3.11" fill="url(#hl)"/>
<circle cx="236.9" cy="639" r="15.6" fill="url(#sR)"/><ellipse cx="228.41" cy="637.25" rx="4.7" ry="4" fill="url(#hl)"/><ellipse cx="241.02" cy="635.26" rx="4.7" ry="4" fill="url(#hl)"/><ellipse cx="234.15" cy="641.5" rx="3.8" ry="3.23" fill="url(#hl)"/>
<line x1="480.6" y1="619" x2="480.6" y2="895" stroke="#f2f2f2" stroke-width="1"/>
<text x="262.2" y="972.7" font-size="51.4" text-anchor="middle">(a)</text></g>
<g id="bar"><line x1="707.6" y1="1.2" x2="707.6" y2="364.4" stroke="#dcdcdc" stroke-width="1.8"/>
<line x1="825" y1="1.2" x2="825" y2="364.4" stroke="#dcdcdc" stroke-width="1.8"/>
<line x1="942.4" y1="1.2" x2="942.4" y2="364.4" stroke="#dcdcdc" stroke-width="1.8"/>
<line x1="590.75" y1="37.7" x2="1060.3" y2="37.7" stroke="#dcdcdc" stroke-width="1.6"/>
<line x1="590.75" y1="110.3" x2="1060.3" y2="110.3" stroke="#dcdcdc" stroke-width="1.6"/>
<line x1="590.75" y1="182.8" x2="1060.3" y2="182.8" stroke="#dcdcdc" stroke-width="1.6"/>
<line x1="590.75" y1="255.2" x2="1060.3" y2="255.2" stroke="#dcdcdc" stroke-width="1.6"/>
<line x1="590.75" y1="327.6" x2="1060.3" y2="327.6" stroke="#dcdcdc" stroke-width="1.6"/>
<line x1="590.75" y1="74" x2="1060.3" y2="74" stroke="#dcdcdc" stroke-width="1.6"/>
<line x1="590.75" y1="146.6" x2="1060.3" y2="146.6" stroke="#dcdcdc" stroke-width="1.6"/>
<line x1="590.75" y1="219" x2="1060.3" y2="219" stroke="#dcdcdc" stroke-width="1.6"/>
<line x1="590.75" y1="291.4" x2="1060.3" y2="291.4" stroke="#dcdcdc" stroke-width="1.6"/>
<rect x="590.75" y="19.6" width="342.65" height="35.8" fill="#ffa6a2" stroke="#000" stroke-width="1.7"/>
<rect x="590.75" y="92.6" width="385.65" height="35.6" fill="#fffaa4" stroke="#000" stroke-width="1.7"/>
<rect x="590.75" y="165.2" width="387.45" height="36" fill="#ffc585" stroke="#000" stroke-width="1.7"/>
<rect x="590.75" y="237.6" width="398.45" height="35.6" fill="#b9e3b8" stroke="#000" stroke-width="1.7"/>
<rect x="590.75" y="310.2" width="421.45" height="35.8" fill="#7db9e8" stroke="#000" stroke-width="1.7"/>
<rect x="0" y="0" width="0" height="0"/>
<line x1="589.75" y1="1.3" x2="1061.2" y2="1.3" stroke="#000" stroke-width="2.8"/>
<line x1="590.75" y1="0" x2="590.75" y2="365.4" stroke="#000" stroke-width="2"/>
<line x1="1060.3" y1="0" x2="1060.3" y2="365.4" stroke="#000" stroke-width="1.8"/>
<line x1="589.75" y1="364.4" x2="1061.2" y2="364.4" stroke="#000" stroke-width="2"/>
<line x1="590.75" y1="37.7" x2="596.95" y2="37.7" stroke="#000" stroke-width="1.8"/>
<line x1="590.75" y1="110.3" x2="596.95" y2="110.3" stroke="#000" stroke-width="1.8"/>
<line x1="590.75" y1="182.8" x2="596.95" y2="182.8" stroke="#000" stroke-width="1.8"/>
<line x1="590.75" y1="255.2" x2="596.95" y2="255.2" stroke="#000" stroke-width="1.8"/>
<line x1="590.75" y1="327.6" x2="596.95" y2="327.6" stroke="#000" stroke-width="1.8"/>
<line x1="590.75" y1="74" x2="596.95" y2="74" stroke="#000" stroke-width="1.8"/>
<line x1="590.75" y1="146.6" x2="596.95" y2="146.6" stroke="#000" stroke-width="1.8"/>
<line x1="590.75" y1="219" x2="596.95" y2="219" stroke="#000" stroke-width="1.8"/>
<line x1="590.75" y1="291.4" x2="596.95" y2="291.4" stroke="#000" stroke-width="1.8"/>
<line x1="707.6" y1="364.4" x2="707.6" y2="357.9" stroke="#000" stroke-width="1.8"/>
<line x1="825" y1="364.4" x2="825" y2="357.9" stroke="#000" stroke-width="1.8"/>
<line x1="942.4" y1="364.4" x2="942.4" y2="357.9" stroke="#000" stroke-width="1.8"/>
<text class="b" x="535.6" y="45.9" font-size="18" textLength="41.9" lengthAdjust="spacingAndGlyphs">Nb<tspan font-size="12" dy="4.6">2</tspan><tspan dy="-4.6">P</tspan></text>
<text class="b" x="535.8" y="114.8" font-size="18" textLength="40.8" lengthAdjust="spacingAndGlyphs">Ta<tspan font-size="12" dy="4.6">2</tspan><tspan dy="-4.6">P</tspan></text>
<text class="b" x="536.2" y="188.4" font-size="18" textLength="37.5" lengthAdjust="spacingAndGlyphs">Fe<tspan font-size="12" dy="4.6">2</tspan><tspan dy="-4.6">P</tspan></text>
<text class="b" x="533.1" y="262.9" font-size="18" textLength="35.6" lengthAdjust="spacingAndGlyphs">W<tspan font-size="12" dy="4.6">2</tspan><tspan dy="-4.6">P</tspan></text>
<text class="b" x="530.1" y="335" font-size="18" textLength="43.6" lengthAdjust="spacingAndGlyphs">Mo<tspan font-size="12" dy="4.6">2</tspan><tspan dy="-4.6">P</tspan></text>
<text class="b" x="590.3" y="386.8" font-size="17.2" text-anchor="middle" textLength="39.6" lengthAdjust="spacingAndGlyphs">-1.00</text>
<text class="b" x="707.6" y="386.8" font-size="17.2" text-anchor="middle" textLength="39.6" lengthAdjust="spacingAndGlyphs">-1.25</text>
<text class="b" x="825" y="386.8" font-size="17.2" text-anchor="middle" textLength="39.6" lengthAdjust="spacingAndGlyphs">-1.50</text>
<text class="b" x="942.4" y="386.8" font-size="17.2" text-anchor="middle" textLength="39.6" lengthAdjust="spacingAndGlyphs">-1.75</text>
<text class="b" x="1059" y="386.8" font-size="17.2" text-anchor="middle" textLength="39.6" lengthAdjust="spacingAndGlyphs">-2.00</text>
<text class="b" x="663.8" y="427.7" font-size="22.6" textLength="278.8" lengthAdjust="spacingAndGlyphs">Adsorption free energy (eV)</text>
<text x="811" y="483.6" font-size="49.6" text-anchor="middle">(b)</text></g>
<g id="pdos"><g clip-path="url(#pc)">
<line x1="828.6" y1="509.8" x2="828.6" y2="867.8" stroke="#000" stroke-width="2" stroke-dasharray="2.7 2.6"/>
<polyline fill="none" stroke="#000" stroke-width="2.6" stroke-linejoin="round" points="641.02,688.2 648.1,686.5 655.18,645.6 662.26,685 669.34,675.2 676.42,680.4 683.5,667 690.58,626.3 697.66,608.5 704.74,686.3 711.82,676.7 718.9,678.9 725.98,673.7 733.06,679.6 740.14,674.4 747.22,658 754.3,628.3 761.38,653.7 768.46,532.6 775.54,591.9 782.62,572.6 789.7,640.4 796.78,639.6 803.86,677.4 810.94,612 818.02,620.4 825.1,623.3 832.18,621.9 839.26,633.7 846.34,580.7 853.42,584.7 860.5,561.5 867.58,597 874.66,565.9 881.74,616.7 888.82,604 895.9,641.9 902.98,674.1 910.06,670.7 917.14,656.7 924.22,609.5 931.3,563 938.38,617 945.46,665.6 952.54,651.5 959.62,654 966.7,651.5 973.78,636 980.86,606.3 987.94,667 995.02,649.3 1002.1,607 1009.18,662.8 1016.26,680.8 1023.34,674 1030.42,682 1037.5,684 1044.58,688.2"/>
<polyline fill="none" stroke="#000" stroke-width="2.6" stroke-linejoin="round" points="641.02,688.2 648.1,692 655.18,736.7 662.26,692.2 669.34,699.6 676.42,695.9 683.5,701.1 690.58,717.4 697.66,844.8 704.74,689.3 711.82,698.9 718.9,697.4 725.98,704.4 733.06,699.6 740.14,701.9 747.22,723.2 754.3,727.5 761.38,710.2 768.46,752.4 775.54,752.3 782.62,859.6 789.7,803.5 796.78,747.4 803.86,718.5 810.94,759.3 818.02,723 825.1,753 832.18,784.6 839.26,721.5 846.34,739.3 853.42,821.9 860.5,760.7 867.58,1000 874.66,751.9 881.74,834 888.82,5000 895.9,872 902.98,748 910.06,717 917.14,691.1 924.22,818.1 931.3,767 938.38,774 945.46,745.2 952.54,730.4 959.62,733.3 966.7,723 973.78,731.1 980.86,720 987.94,719.1 995.02,710.2 1002.1,721 1009.18,707 1016.26,700 1023.34,698.9 1030.42,697.8 1037.5,691.7 1044.58,688.2"/>
<polyline fill="none" stroke="#f00000" stroke-width="2.4" stroke-linejoin="round" points="641.02,688.2 648.1,659.6 655.18,677.4 662.26,684.1 669.34,677.4 676.42,682.6 683.5,684.8 690.58,681 697.66,676.7 704.74,688.2 754.3,688.2 761.38,687.2 768.46,675.2 775.54,684.8 782.62,671.5 789.7,680.4 796.78,680.4 803.86,684.1 810.94,683.3 818.02,681.1 825.1,677.4 832.18,670 839.26,678.9 846.34,675.9 853.42,680.4 860.5,673.7 867.58,684.8 874.66,666.3 881.74,673.4 888.82,686.3 895.9,687.8 902.98,687.8 910.06,687.8 917.14,684.8 924.22,684.1 931.3,683.8 938.38,684.4 945.46,685.6 952.54,686.5 959.62,687.6 966.7,687.6 973.78,686 980.86,685.6 987.94,687.5 995.02,686.5 1002.1,686.5 1009.18,687.8 1016.26,688.2"/>
<polyline fill="none" stroke="#f00000" stroke-width="2.4" stroke-linejoin="round" points="641.02,688.2 648.1,711.5 655.18,701 662.26,692.2 669.34,697.1 676.42,694 683.5,690.7 690.58,693 697.66,695.2 704.74,688.2 754.3,688.2 761.38,689 768.46,695 775.54,692 782.62,733.3 789.7,695.8 796.78,700.9 803.86,693.5 810.94,700.9 818.02,692.4 825.1,700.5 832.18,693.9 839.26,692 846.34,697.2 853.42,714 860.5,688.7 867.58,692.8 874.66,694.6 881.74,704.4 888.82,720 895.9,691.9 902.98,691.9 910.06,690 917.14,688.5 924.22,691.9 931.3,691.1 938.38,692 945.46,692.6 952.54,691 959.62,689.6 966.7,688.4 973.78,689.6 980.86,690 987.94,690.4 995.02,689 1002.1,690.4 1009.18,688.5 1016.26,688.2"/>
<polyline fill="none" stroke="#0000d8" stroke-width="2.4" stroke-linejoin="round" points="595.6,688.2 641.02,688.2 648.1,676.7 655.18,683.3 662.26,687.8 669.34,684.1 676.42,687 683.5,686.5 690.58,685 697.66,679.6 704.74,688.2 761.38,688.2 768.46,686.3 775.54,687.8 782.62,686.3 789.7,687 796.78,686.3 803.86,687 810.94,686.6 818.02,685.6 825.1,684.1 832.18,679.6 839.26,680.4 846.34,681.1 853.42,683.3 860.5,678.1 867.58,686.3 874.66,678.1 881.74,675.9 888.82,686.3 895.9,687 902.98,687 910.06,687 917.14,678.1 924.22,675.2 931.3,677.4 938.38,675.5 945.46,682.6 952.54,684.8 959.62,686.3 966.7,687 973.78,683.3 980.86,679.6 987.94,685.6 995.02,683.3 1002.1,683.3 1009.18,686.5 1016.26,687.3 1023.34,687.6 1030.42,687.9 1037.5,688.2 1061,688.2"/>
<polyline fill="none" stroke="#0000d8" stroke-width="2.4" stroke-linejoin="round" points="641.02,688.2 648.1,697.4 655.18,691.5 662.26,688.5 669.34,692 676.42,690 683.5,689 690.58,690.5 697.66,692.2 704.74,688.2 761.38,688.2 768.46,689.3 775.54,689.3 782.62,694.6 789.7,689.8 796.78,691.7 803.86,689 810.94,692.8 818.02,689.5 825.1,694.2 832.18,691.7 839.26,690.5 846.34,696.1 853.42,706.2 860.5,688.7 867.58,690.2 874.66,691.7 881.74,696.5 888.82,704.6 895.9,690.4 902.98,689 910.06,689 917.14,688.9 924.22,701.5 931.3,695.6 938.38,699 945.46,702.2 952.54,699.3 959.62,694.1 966.7,691.1 973.78,690.4 980.86,691.3 987.94,694.2 995.02,691.5 1002.1,692.8 1009.18,690.4 1016.26,689.3 1023.34,688.8 1030.42,688.5 1037.5,688.2"/>
</g>
<rect x="595.6" y="508.8" width="465.4" height="359" fill="none" stroke="#000" stroke-width="2.2"/>
<line x1="672.9" y1="867.8" x2="672.9" y2="860.8" stroke="#000" stroke-width="1.8"/>
<line x1="750.6" y1="867.8" x2="750.6" y2="860.8" stroke="#000" stroke-width="1.8"/>
<line x1="828.3" y1="867.8" x2="828.3" y2="860.8" stroke="#000" stroke-width="1.8"/>
<line x1="906" y1="867.8" x2="906" y2="860.8" stroke="#000" stroke-width="1.8"/>
<line x1="983.7" y1="867.8" x2="983.7" y2="860.8" stroke="#000" stroke-width="1.8"/>
<line x1="634.05" y1="867.8" x2="634.05" y2="864" stroke="#000" stroke-width="1.8"/>
<line x1="711.75" y1="867.8" x2="711.75" y2="864" stroke="#000" stroke-width="1.8"/>
<line x1="789.45" y1="867.8" x2="789.45" y2="864" stroke="#000" stroke-width="1.8"/>
<line x1="867.15" y1="867.8" x2="867.15" y2="864" stroke="#000" stroke-width="1.8"/>
<line x1="944.85" y1="867.8" x2="944.85" y2="864" stroke="#000" stroke-width="1.8"/>
<line x1="1022.55" y1="867.8" x2="1022.55" y2="864" stroke="#000" stroke-width="1.8"/>
<line x1="595.6" y1="598.6" x2="602.4" y2="598.6" stroke="#000" stroke-width="1.8"/>
<line x1="595.6" y1="778" x2="602.4" y2="778" stroke="#000" stroke-width="1.8"/>
<text class="b" x="586.4" y="515.2" font-size="16" text-anchor="end" textLength="8.6" lengthAdjust="spacingAndGlyphs">2</text>
<text class="b" x="586.4" y="604.5" font-size="16" text-anchor="end" textLength="8" lengthAdjust="spacingAndGlyphs">1</text>
<text class="b" x="586.4" y="693.6" font-size="16" text-anchor="end" textLength="8.4" lengthAdjust="spacingAndGlyphs">0</text>
<text class="b" x="586.4" y="783.2" font-size="16" text-anchor="end" textLength="15.2" lengthAdjust="spacingAndGlyphs">-1</text>
<text class="b" x="586.4" y="873.2" font-size="16" text-anchor="end" textLength="15.2" lengthAdjust="spacingAndGlyphs">-2</text>
<text class="b" x="595.5" y="890" font-size="16" text-anchor="middle" textLength="30" lengthAdjust="spacingAndGlyphs">-7.5</text>
<text class="b" x="673" y="890" font-size="16" text-anchor="middle" textLength="30" lengthAdjust="spacingAndGlyphs">-5.0</text>
<text class="b" x="750.3" y="890" font-size="16" text-anchor="middle" textLength="30.5" lengthAdjust="spacingAndGlyphs">-2.5</text>
<text class="b" x="828.3" y="890" font-size="16" text-anchor="middle" textLength="22.6" lengthAdjust="spacingAndGlyphs">0.0</text>
<text class="b" x="905.4" y="890" font-size="16" text-anchor="middle" textLength="23.2" lengthAdjust="spacingAndGlyphs">2.5</text>
<text class="b" x="982.9" y="890" font-size="16" text-anchor="middle" textLength="23.2" lengthAdjust="spacingAndGlyphs">5.0</text>
<text class="b" x="1061.3" y="890" font-size="16" text-anchor="middle" textLength="22.6" lengthAdjust="spacingAndGlyphs">7.5</text>
<text class="b" x="778" y="919.5" font-size="17.5" textLength="100" lengthAdjust="spacingAndGlyphs">Energy (eV)</text>
<text class="b" transform="translate(561 747.8) rotate(-90)" font-size="18.5" textLength="132.4" lengthAdjust="spacingAndGlyphs">PDOS (State/eV)</text>
<text x="816" y="972.5" font-size="51" text-anchor="middle">(c)</text>
<line x1="968.3" y1="524.6" x2="1001.6" y2="524.6" stroke="#000" stroke-width="1.9"/>
<line x1="968.3" y1="548.3" x2="1001.6" y2="548.3" stroke="#0000d8" stroke-width="2.6"/>
<line x1="968.3" y1="571.7" x2="1001.6" y2="571.7" stroke="#f00000" stroke-width="1.9"/>
<text class="b" x="1006.1" y="528.8" font-size="17" textLength="49.7" lengthAdjust="spacingAndGlyphs">Nb-4d</text>
<text class="b" x="1006.1" y="552.5" font-size="17" textLength="39" lengthAdjust="spacingAndGlyphs">C-2p</text>
<text class="b" x="1006.1" y="575.4" font-size="17" textLength="40.3" lengthAdjust="spacingAndGlyphs">O-2p</text></g>
</svg>
</body></html>
